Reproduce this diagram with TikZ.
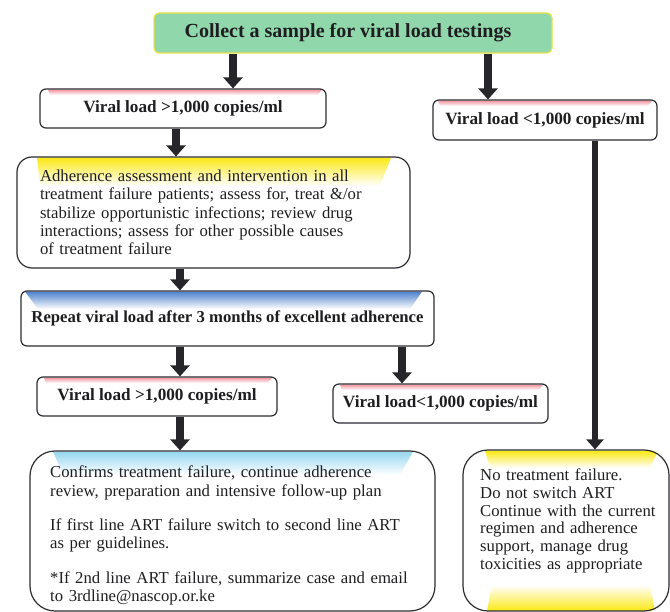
\documentclass[tikz,border=0pt]{standalone}
\usepackage{fontspec}
\setmainfont{Liberation Serif}
\usetikzlibrary{arrows.meta,backgrounds}
\definecolor{topgreen}{RGB}{145,215,172}
\definecolor{topborder}{RGB}{232,226,70}
\definecolor{edgecol}{RGB}{45,45,50}
\definecolor{arrcol}{RGB}{38,38,42}
\definecolor{txtcol}{RGB}{30,30,32}
\definecolor{pinkc}{RGB}{240,150,162}
\definecolor{yelc}{RGB}{250,232,20}
\definecolor{bluec}{RGB}{80,130,205}
\definecolor{cyanc}{RGB}{150,215,240}
\begin{document}
\begin{tikzpicture}[x=1pt,y=-1pt,
  box/.style={draw=edgecol, line width=1.2pt, rounded corners=6pt, inner sep=0pt, text=txtcol},
  arr/.style={draw=arrcol, line width=8pt, -{Triangle[width=19pt,length=11pt]}},
  thinarr/.style={draw=arrcol, line width=5.5pt, -{Triangle[width=17pt,length=10pt]}},
  boldtxt/.style={font=\bfseries\fontsize{17.2pt}{20pt}\selectfont},
  regtxt/.style={font=\fontsize{16.7pt}{18.3pt}\selectfont, text=txtcol}]
\useasboundingbox (0,0) rectangle (670,612);

% boxes
\node[box, draw=topborder, fill=topgreen, rounded corners=5pt, minimum width=398pt, minimum height=40pt,
      font=\bfseries\fontsize{20pt}{24pt}\selectfont] (top) at (353,33) {Collect a sample for viral load testings\hspace*{10pt}};
\node[box, minimum width=286pt, minimum height=39pt, boldtxt] (vla) at (183,108.5) {Viral load >1,000 copies/ml};
\node[box, minimum width=224pt, minimum height=40pt, boldtxt] (vlb) at (545,120) {Viral load <1,000 copies/ml};
\node[box, rounded corners=15pt, minimum width=393pt, minimum height=111pt, regtxt, text width=347pt, align=left] (adh) at (213.5,212.5)
  {Adherence assessment and intervention in all\\treatment failure patients; assess for, treat \&/or\\stabilize opportunistic infections; review drug\\interactions; assess for other possible causes\\of treatment failure};
\node[box, minimum width=413pt, minimum height=55pt, font=\bfseries\fontsize{16.7pt}{20pt}\selectfont] (rep) at (227.5,318.5)
  {Repeat viral load after 3 months of excellent adherence};
\node[box, minimum width=240pt, minimum height=39pt, boldtxt] (vlc) at (157,396.5) {Viral load >1,000 copies/ml};
\node[box, minimum width=215pt, minimum height=39pt, boldtxt] (vld) at (440.5,403.5) {Viral load<1,000 copies/ml};
\node[box, rounded corners=25pt, minimum width=405pt, minimum height=160pt] (conf) at (232.5,531) {};
\node[box, rounded corners=25pt, minimum width=206pt, minimum height=161pt] (nt) at (566,530.5) {};

\node[regtxt, anchor=base west, inner sep=0pt, text width=380pt, align=left] (conftxt) at (50,478)
  {Confirms treatment failure, continue adherence\\review, preparation and intensive follow-up plan\\[16pt]If first line ART failure switch to second line ART\\as per guidelines.\\[16pt]*If 2nd line ART failure, summarize case and email\\to 3rdline@nascop.or.ke};
\node[regtxt, anchor=base west, inner sep=0pt, text width=185pt, align=left, font=\fontsize{16.7pt}{18pt}\selectfont] (nttxt) at (480,480)
  {No treatment failure.\\Do not switch ART\\Continue with the current\\regimen and adherence\\support, manage drug\\toxicities as appropriate};

% gradient strips
\begin{scope}[on background layer]
  \shade[top color=pinkc, bottom color=white] (48,89.6) -- (322,89.6) -- (318,95) -- (50,95) -- cycle;
  \shade[top color=pinkc, bottom color=white] (438,100.6) -- (652,100.6) -- (648,106) -- (440,106) -- cycle;
  \shade[top color=yelc, bottom color=white] (37,157.6) -- (391,157.6) -- (380,186) -- (40,186) -- cycle;
  \shade[top color=bluec, bottom color=white] (25,291.6) -- (422,291.6) -- (410,309) -- (38,309) -- cycle;
  \shade[top color=pinkc, bottom color=white] (44,377.6) -- (272,377.6) -- (268,383) -- (46,383) -- cycle;
  \shade[top color=pinkc, bottom color=white] (340,384.6) -- (543,384.6) -- (539,390) -- (342,390) -- cycle;
  \begin{scope}
    \clip[rounded corners=25pt] (conf.north west) rectangle (conf.south east);
    \shade[top color=cyanc, bottom color=white] (53,451.6) -- (413,451.6) -- (400,475) -- (63,475) -- cycle;
  \end{scope}
  \begin{scope}
    \clip[rounded corners=25pt] (nt.north west) rectangle (nt.south east);
    \shade[top color=yelc, bottom color=white] (485,450.6) -- (658,450.6) -- (650,468) -- (490,468) -- cycle;
    \shade[top color=white, bottom color=yelc] (492,585) -- (650,585) -- (655,611) -- (487,611) -- cycle;
  \end{scope}
\end{scope}

% arrows
\coordinate (xa) at (233,0);
\coordinate (xb) at (488,0);
\coordinate (xc) at (176,0);
\coordinate (xd) at (180,0);
\coordinate (xe) at (402,0);
\coordinate (xf) at (595,0);
\draw[arr] (top.south -| xa) -- (vla.north -| xa);
\draw[arr] (top.south -| xb) -- (vlb.north -| xb);
\draw[arr] (vla.south -| xc) -- (adh.north -| xc);
\draw[arr] (adh.south -| xd) -- (rep.north -| xd);
\draw[arr] (rep.south -| xd) -- (vlc.north -| xd);
\draw[arr] (rep.south -| xe) -- (vld.north -| xe);
\draw[arr] (vlc.south -| xd) -- (conf.north -| xd);
\draw[thinarr] (vlb.south -| xf) -- (nt.north -| xf);
\end{tikzpicture}
\end{document}
